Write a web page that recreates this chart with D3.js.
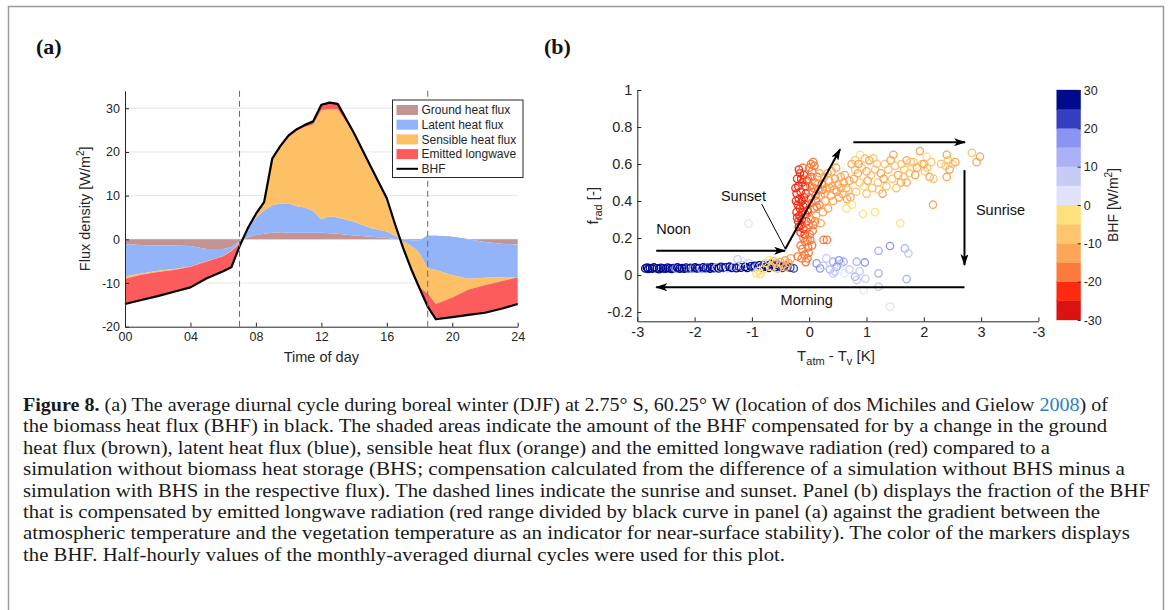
<!DOCTYPE html>
<html>
<head>
<meta charset="utf-8">
<script src="https://cdn.jsdelivr.net/npm/d3@7"></script>
<style>
  body { margin: 0; background: #fff; }
  svg text { font-family: "Liberation Sans", Arial, sans-serif; }
</style>
</head>
<body>
<svg id="fig" width="1171" height="610"></svg>
<script>
// ---- panel (a): diurnal cycle, compensation of the BHF (W/m2) ----
const hours    = [0, 1, 2, 3, 4, 5, 6, 6.5, 7, 7.5, 8, 8.5, 9, 9.5, 10, 10.5, 11, 11.5, 12, 12.5, 13, 14, 15, 16, 16.5, 17, 17.5, 18, 18.5, 19, 20, 21, 22, 23, 24];
const ground   = [-1.1, -1.3, -1.4, -1.4, -1.5, -2.2, -2.2, -1.8, -0.3, 0.5, 1.0, 1.3, 1.5, 1.6, 1.5, 1.5, 1.5, 1.5, 1.5, 1.4, 1.3, 0.9, 0.6, 0.3, 0.1, 0.0, -0.2, -0.2, 0.8, 0.8, 0.6, 0.0, -0.6, -1.0, -1.2];
const latent   = [-7.4, -6.5, -5.8, -5.4, -4.7, -2.8, -1.6, -0.8, -0.5, 1.8, 4.0, 5.3, 6.3, 6.6, 6.7, 6.1, 5.8, 5.0, 3.1, 3.9, 3.7, 3.1, 2.0, 1.5, 0.7, -0.5, -1.3, -3.0, -7.4, -7.8, -8.8, -9.0, -8.2, -7.7, -7.4];
const sensible = [-0.5, -0.3, -0.3, -0.2, -0.1, -0.1, -0.1, -0.1, -0.2, 0.1, 0.6, 1.7, 10.2, 12.8, 15.1, 17.2, 18.4, 19.8, 25.0, 24.5, 24.8, 20.2, 14.2, 7.5, 2.7, -1.5, -5.4, -7.8, -5.8, -7.8, -5.1, -2.5, -1.7, -0.9, -0.1];
const longwave = [-5.8, -5.8, -5.5, -5.0, -4.7, -3.8, -3.4, -3.7, -0.6, 0.1, 0.2, 0.2, 0.5, 0.4, 0.5, 0.4, 0.5, 0.7, 1.2, 1.5, 1.2, 0.1, 0.0, 0.1, 0.0, 0.0, 0.0, -0.2, -3.0, -3.5, -4.5, -5.8, -6.3, -6.3, -6.1];
const bhf      = [-14.8, -13.9, -13.0, -12.0, -11.0, -8.9, -7.3, -6.4, -1.6, 2.5, 5.8, 8.5, 18.5, 21.4, 23.8, 25.2, 26.2, 27.0, 30.8, 31.3, 31.0, 24.3, 16.8, 9.4, 3.5, -2.0, -6.9, -11.2, -15.4, -18.3, -17.8, -17.3, -16.8, -15.9, -14.8];
const sunTimes = [7.0, 18.5];
const fluxKeys   = ['ground', 'latent', 'sensible', 'longwave'];
const fluxNames  = ['Ground heat flux', 'Latent heat flux', 'Sensible heat flux', 'Emitted longwave'];
const fluxColors = ['#c49494', '#93b4f9', '#fdc064', '#fc5c5c'];
const hourTicks  = [0, 4, 8, 12, 16, 20, 24];
const fluxTicks  = [-20, -10, 0, 10, 20, 30];

// ---- panel (b): f_rad against Tatm - Tv, coloured by BHF  [dT, frad, BHF] ----
const noonPts = [
  [-2.86,0.036,28],[-2.83,0.040,27],[-2.81,0.033,29],[-2.78,0.038,28],[-2.74,0.035,27],[-2.71,0.041,26],
  [-2.66,0.036,28],[-2.62,0.032,29],[-2.59,0.039,27],[-2.55,0.036,26],[-2.51,0.034,28],[-2.47,0.040,27],
  [-2.44,0.036,29],[-2.40,0.033,26],[-2.37,0.038,28],[-2.33,0.036,17],[-2.30,0.041,27],[-2.26,0.035,28],
  [-2.22,0.038,26],[-2.18,0.034,29],[-2.15,0.040,27],[-2.11,0.036,22],[-2.07,0.039,28],[-2.03,0.034,16],
  [-1.99,0.041,27],[-1.96,0.036,26],[-1.92,0.038,28],[-1.88,0.033,11],[-1.85,0.042,27],[-1.81,0.037,29],
  [-1.77,0.040,22],[-1.73,0.035,26],[-1.70,0.043,28],[-1.66,0.037,27],[-1.62,0.041,12],[-1.58,0.036,28],
  [-1.54,0.044,26],[-1.50,0.038,23],[-1.46,0.042,27],[-1.42,0.036,8],[-1.39,0.045,28],[-1.35,0.039,26],
  [-1.31,0.043,14],[-1.27,0.037,27],[-1.25,0.085,7],[-1.23,0.046,22],[-1.19,0.040,28],[-1.18,0.075,4],
  [-1.16,0.052,9],[-1.12,0.044,26],[-1.08,0.038,27],[-1.05,0.063,6],[-1.02,0.047,28],[-0.98,0.041,22],
  [-0.95,0.050,26],[-0.91,0.044,12],[-0.87,0.052,27],[-0.83,0.040,28],[-0.79,0.055,21],[-0.75,0.046,26],
  [-0.71,0.038,27],[-0.67,0.060,28],[-0.63,0.050,23],[-0.59,0.043,26],[-0.55,0.055,21],[-0.51,0.046,27],
  [-0.47,0.038,22],[-0.43,0.052,26],[-0.38,0.044,21],[-0.33,0.040,22],[-0.27,0.036,20]
];
const dawnPts = [
  [-0.92,0.010,-2],[-0.88,0.022,-3],[-0.85,0.005,-1],[-0.80,0.030,-4],[-0.75,0.065,-3],[-0.70,0.080,-2],
  [-0.66,0.045,-6],[-0.62,0.075,-8],[-0.58,0.062,-12],[-0.55,0.035,-7],[-0.50,0.070,-13],[-0.46,0.055,-9],
  [-0.42,0.080,-14],[-0.40,0.045,-11],[-0.36,0.065,-12],[-0.32,0.090,-15]
];
const sunsetPts = [
  [-0.21,0.52,-22],[-0.19,0.48,-23],[-0.22,0.44,-22],[-0.18,0.41,-24],[-0.20,0.38,-22],[-0.16,0.36,-23],
  [-0.22,0.34,-21],[-0.17,0.32,-24],[-0.13,0.30,-22],[-0.19,0.29,-23],[-0.14,0.27,-21],[-0.10,0.25,-22],
  [-0.15,0.45,-24],[-0.12,0.50,-22],[-0.09,0.54,-21],[-0.13,0.40,-23],[-0.10,0.37,-22],[-0.07,0.33,-21],
  [-0.06,0.44,-22],[-0.16,0.55,-21],[-0.11,0.58,-20],[-0.05,0.29,-22],[-0.08,0.22,-21],[-0.03,0.19,-20],
  [-0.24,0.47,-22],[-0.23,0.40,-23],[-0.21,0.31,-22],[-0.18,0.26,-21],[-0.15,0.23,-22],[-0.12,0.34,-24],
  [-0.09,0.42,-23],[-0.07,0.48,-22],[-0.04,0.51,-21],[-0.14,0.52,-23],[-0.18,0.57,-21],[-0.06,0.38,-22],
  [-0.03,0.35,-21],[-0.01,0.27,-20],
  [0.03,0.60,-18],[0.07,0.61,-17],[0.09,0.59,-16],[0.05,0.56,-18],[-0.02,0.52,-17],[0.02,0.48,-18],
  [0.06,0.45,-17],[0.10,0.50,-16],[0.14,0.53,-17],[0.00,0.42,-18],[0.04,0.39,-17],[0.08,0.36,-16],
  [0.12,0.40,-17],[0.16,0.46,-16],[-0.02,0.34,-18],[0.03,0.30,-17],[0.07,0.27,-16],[-0.04,0.25,-18],
  [0.01,0.22,-17],[-0.07,0.18,-16],[-0.02,0.15,-17],[-0.12,0.14,-16],[-0.08,0.11,-17],[-0.15,0.16,-18],
  [-0.03,0.09,-16],[-0.20,0.10,-17],[0.25,0.19,-16],[0.31,0.19,-17],[0.20,0.43,-15],[0.22,0.49,-16],
  [0.26,0.53,-14],[0.18,0.38,-16],[-0.10,0.20,-18],[0.05,0.16,-16],
  [0.00,0.58,-17],[0.04,0.53,-16],[0.08,0.47,-17],[0.11,0.43,-16],[0.13,0.37,-17],[0.10,0.29,-16],
  [0.06,0.24,-17],[-0.01,0.12,-16],[-0.06,0.07,-17],[-0.13,0.09,-16],[0.02,0.19,-18],[0.15,0.49,-15],
  [0.18,0.55,-14],[0.23,0.46,-16],
  [0.30,0.47,-12],[0.35,0.51,-13],[0.40,0.48,-12],[0.45,0.52,-11],[0.38,0.43,-12],[0.50,0.49,-13],
  [0.55,0.53,-12],[0.60,0.50,-11],[0.48,0.45,-12],[0.28,0.40,-13],[0.33,0.36,-12],[0.42,0.40,-11],
  [0.58,0.44,-12],[0.65,0.47,-11],[0.70,0.51,-12],[0.24,0.34,-13],[0.12,0.32,-12],[0.20,0.28,-13],
  [0.27,0.44,-12],[0.32,0.55,-13],[0.36,0.47,-12],[0.44,0.46,-12],[0.52,0.42,-11],[0.56,0.47,-12],
  [0.62,0.54,-13],[0.66,0.41,-12],[0.39,0.56,-12],[0.47,0.58,-13]
];
const nightPts = [
  [0.74,0.60,-12],[0.80,0.57,-8],[0.89,0.65,-3],[0.97,0.63,-7],[1.05,0.62,-12],[1.12,0.63,-8],
  [0.85,0.55,-11],[0.92,0.58,-7],[1.00,0.56,-12],[1.08,0.54,-8],[1.15,0.57,-7],[0.78,0.52,-12],
  [0.88,0.50,-7],[0.95,0.48,-3],[1.02,0.51,-12],[1.10,0.47,-8],[1.20,0.50,-7],[1.25,0.55,-12],
  [1.32,0.60,-8],[1.38,0.57,-7],[1.42,0.62,-12],[1.47,0.65,-13],[1.50,0.59,-8],[1.55,0.54,-12],
  [1.61,0.60,-7],[1.66,0.57,-8],[1.70,0.62,-12],[1.75,0.55,-8],[1.80,0.58,-3],[1.82,0.61,-7],
  [1.88,0.58,-12],[1.93,0.67,-14],[1.97,0.60,-8],[2.02,0.56,-7],[2.06,0.58,-8],[2.10,0.53,-12],
  [2.17,0.52,-8],[2.05,0.64,-3],[2.40,0.65,-12],[2.38,0.59,-8],[2.45,0.57,-12],[2.50,0.60,-8],
  [2.40,0.53,-12],[2.84,0.66,-7],[2.98,0.64,-12],[2.92,0.61,-13],[1.28,0.44,-12],[1.35,0.48,-7],
  [1.45,0.52,-8],[1.60,0.50,-12],[0.68,0.46,-8],[0.72,0.42,-12],[0.75,0.38,-3],[0.65,0.36,-3],
  [0.94,0.33,-4],[1.15,0.34,-3],[2.16,0.38,-12],[1.59,0.28,-4],[1.00,0.44,-7],[0.82,0.45,-8],
  [1.70,0.50,-12],[0.80,0.62,-8],[0.86,0.60,-12],[1.18,0.60,-8],[1.22,0.46,-8],[1.30,0.52,-12],
  [1.52,0.47,-7],[1.65,0.53,-8],[1.77,0.61,-8],[1.85,0.54,-12],[2.00,0.60,-12],[2.13,0.61,-8],
  [2.30,0.60,-7],[2.42,0.62,-8],[2.55,0.61,-12]
];
const morningPts = [
  [0.13,0.063,16],[0.19,0.036,17],[0.30,0.090,8],[0.42,0.072,13],[0.48,0.045,16],[0.55,0.060,6],
  [0.60,0.072,12],[0.36,0.030,11],[0.52,0.080,18],[0.45,0.020,9],[0.83,0.072,12],[0.97,0.068,17],
  [0.80,-0.009,13],[0.83,-0.027,9],[0.95,-0.081,4],[1.21,0.131,14],[1.41,0.157,16],[1.67,0.144,12],
  [1.73,0.117,9],[1.21,0.009,12],[1.21,-0.063,7],[1.70,-0.022,13],[1.41,-0.171,3],[-1.06,0.279,4],
  [0.42,0.009,5],[0.70,0.030,8],[0.25,0.050,7],[0.88,0.020,5],[0.62,0.010,4],[0.98,-0.020,6]
];
const dTTicks   = [-3, -2, -1, 0, 1, 2, 3, 4];
const fradTicks = [-0.2, 0, 0.2, 0.4, 0.6, 0.8, 1];
const cbTicks   = [-30, -20, -10, 0, 10, 20, 30];
const cbLevels  = [-30, -25, -20, -15, -10, -5, 0, 5, 10, 15, 20, 25];
const cbColors  = ['#d91212', '#fb2a10', '#fb7b3c', '#fca657', '#fdc66e', '#fde27c',
                   '#e1e3fa', '#c6cbf8', '#aab1f6', '#8b94f2', '#3440c0', '#000a8c'];

// arrows and notes of panel (b), in data units
const arrows = [
  [[-2.67, 0.131], [-0.42, 0.131]],
  [[-0.42, 0.139], [0.54, 0.68]],
  [[0.77, 0.718], [2.72, 0.718]],
  [[2.71, 0.567], [2.71, 0.054]],
  [[2.71, -0.066], [-2.67, -0.066]]
];
const notes = [
  { text: 'Noon',    x: -2.67, y: 0.222 },
  { text: 'Sunset',  x: -1.54, y: 0.400 },
  { text: 'Sunrise', x: 2.91,  y: 0.324 },
  { text: 'Morning', x: -0.50, y: -0.162 }
];
const sunsetLeader = [[-0.83, 0.384], [-0.42, 0.144]];

const captionLines = [
  'the biomass heat flux (BHF) in black. The shaded areas indicate the amount of the BHF compensated for by a change in the ground',
  'heat flux (brown), latent heat flux (blue), sensible heat flux (orange) and the emitted longwave radiation (red) compared to a',
  'simulation without biomass heat storage (BHS; compensation calculated from the difference of a simulation without BHS minus a',
  'simulation with BHS in the respective flux). The dashed lines indicate the sunrise and sunset. Panel (b) displays the fraction of the BHF',
  'that is compensated by emitted longwave radiation (red range divided by black curve in panel (a) against the gradient between the',
  'atmospheric temperature and the vegetation temperature as an indicator for near-surface stability). The color of the markers displays',
  'the BHF. Half-hourly values of the monthly-averaged diurnal cycles were used for this plot.'
];
const captionEnds = [1108, 1107, 1050, 1125, 1150, 1100, 1130, 785];

const INK = '#262626';
const svg = d3.select('#fig');

function styleAxis(g, fs) {
  g.attr('font-family', '"Liberation Sans", Arial, sans-serif').attr('font-size', fs);
  g.selectAll('path').attr('stroke', INK).attr('stroke-width', 1);
  g.selectAll('line').attr('stroke', INK);
  g.selectAll('text').attr('fill', INK);
}

// frame
svg.append('rect').attr('x', 8.5).attr('y', 6.5).attr('width', 1155).attr('height', 700)
  .attr('fill', 'none').attr('stroke', '#9a9a9a').attr('stroke-width', 1.5);

svg.selectAll('text.plabel').data(['(a)', '(b)']).join('text')
  .attr('class', 'plabel')
  .attr('x', (d, i) => i ? 544 : 36).attr('y', 54)
  .style('font-family', '"Liberation Serif", "Times New Roman", serif')
  .attr('font-size', 22).attr('font-weight', 'bold').attr('fill', '#111').text(d => d);

// ================= panel (a) =================
const xA = d3.scaleLinear().domain([0, 24]).range([125, 517.7]);
const yA = d3.scaleLinear().domain([-20, 34]).range([326.7, 90.8]);
const gA = svg.append('g');

gA.append('g').selectAll('line').data(fluxTicks.slice(1)).join('line')
  .attr('x1', xA(0)).attr('x2', xA(24))
  .attr('y1', d => yA(d)).attr('y2', d => yA(d))
  .attr('stroke', '#e6e6e6').attr('stroke-width', 1);

const rows = hours.map((h, i) => ({ h, ground: ground[i], latent: latent[i], sensible: sensible[i], longwave: longwave[i] }));
const stacked = d3.stack().keys(fluxKeys)(rows);   // cumulative, like matlab area()
const areaA = d3.area().x(d => xA(d.data.h)).y0(d => yA(d[0])).y1(d => yA(d[1]));
gA.append('g').selectAll('path').data(stacked).join('path')
  .attr('d', areaA).attr('fill', (d, i) => fluxColors[i]);

gA.append('path').datum(hours)
  .attr('d', d3.line().x(d => xA(d)).y((d, i) => yA(bhf[i])))
  .attr('fill', 'none').attr('stroke', '#000').attr('stroke-width', 2.2)
  .attr('stroke-linejoin', 'round');

gA.append('g').selectAll('line').data(sunTimes).join('line')
  .attr('x1', d => xA(d)).attr('x2', d => xA(d))
  .attr('y1', yA(34)).attr('y2', yA(-20))
  .attr('stroke', '#6a6a6a').attr('stroke-width', 1).attr('stroke-dasharray', '6,4');

const axAy = gA.append('g').attr('transform', `translate(${xA(0)},0)`)
  .call(d3.axisLeft(yA).tickValues(fluxTicks).tickSizeInner(-4).tickSizeOuter(0).tickPadding(5).tickFormat(d => String(d)));
styleAxis(axAy, 12.5);
const axAx = gA.append('g').attr('transform', `translate(0,${yA(-20)})`)
  .call(d3.axisBottom(xA).tickValues(hourTicks).tickSizeInner(-4).tickSizeOuter(0).tickPadding(5).tickFormat(d3.format('02d')));
styleAxis(axAx, 12.5);

gA.append('text').attr('x', (xA(0) + xA(24)) / 2).attr('y', 362)
  .attr('text-anchor', 'middle').attr('font-size', 14.5).attr('fill', INK).text('Time of day');
const ylA = gA.append('text').attr('transform', `translate(90,${(yA(34) + yA(-20)) / 2}) rotate(-90)`)
  .attr('text-anchor', 'middle').attr('font-size', 14.5).attr('fill', INK);
ylA.append('tspan').text('Flux density [W/m');
ylA.append('tspan').attr('font-size', 10).attr('dy', -6).text('2');
ylA.append('tspan').attr('dy', 6).text(']');

// legend
const leg = gA.append('g').attr('transform', 'translate(392.5,100)');
leg.append('rect').attr('width', 130.5).attr('height', 77.5)
  .attr('fill', '#fff').attr('stroke', INK).attr('stroke-width', 1);
const legItems = fluxNames.concat(['BHF']);
const li = leg.selectAll('g').data(legItems).join('g')
  .attr('transform', (d, i) => `translate(0,${10 + i * 14.7})`);
li.filter((d, i) => i < 4).append('rect')
  .attr('x', 4).attr('y', -5).attr('width', 21.5).attr('height', 10)
  .attr('fill', (d, i) => fluxColors[i]);
li.filter((d, i) => i === 4).append('line')
  .attr('x1', 4).attr('x2', 25.5).attr('stroke', '#000').attr('stroke-width', 2);
li.append('text').attr('x', 29).attr('y', 4.3).attr('font-size', 12).attr('fill', INK).text(d => d);

// ================= panel (b) =================
const xB = d3.scaleLinear().domain([-3, 4]).range([637.3, 1038.4]);
const yB = d3.scaleLinear().domain([-0.25, 1]).range([321.3, 90]);
const bhfColor = d3.scaleThreshold().domain(cbLevels.slice(1)).range(cbColors);
const gB = svg.append('g');

const allPts = noonPts.concat(dawnPts, morningPts, sunsetPts, nightPts);
gB.append('g').selectAll('circle').data(allPts).join('circle')
  .attr('cx', d => xB(d[0])).attr('cy', d => yB(d[1])).attr('r', 3.7)
  .attr('fill', 'none').attr('stroke', d => bhfColor(d[2])).attr('stroke-width', 1.3);

const defs = svg.append('defs');
defs.append('marker').attr('id', 'ah').attr('viewBox', '0 0 12 8')
  .attr('refX', 11).attr('refY', 4).attr('markerWidth', 12).attr('markerHeight', 8)
  .attr('markerUnits', 'userSpaceOnUse').attr('orient', 'auto')
  .append('path').attr('d', 'M0,0 L12,4 L0,8 L3,4 Z').attr('fill', '#000');

gB.append('g').selectAll('line').data(arrows).join('line')
  .attr('x1', d => xB(d[0][0])).attr('y1', d => yB(d[0][1]))
  .attr('x2', d => xB(d[1][0])).attr('y2', d => yB(d[1][1]))
  .attr('stroke', '#000').attr('stroke-width', 2).attr('marker-end', 'url(#ah)');
gB.append('line')
  .attr('x1', xB(sunsetLeader[0][0])).attr('y1', yB(sunsetLeader[0][1]))
  .attr('x2', xB(sunsetLeader[1][0])).attr('y2', yB(sunsetLeader[1][1]))
  .attr('stroke', '#000').attr('stroke-width', 1);
gB.append('g').selectAll('text').data(notes).join('text')
  .attr('x', d => xB(d.x)).attr('y', d => yB(d.y))
  .attr('font-size', 14.5).attr('fill', '#111').text(d => d.text);

const axBy = gB.append('g').attr('transform', `translate(${xB(-3)},0)`)
  .call(d3.axisLeft(yB).tickValues(fradTicks).tickSizeInner(-4).tickSizeOuter(0).tickPadding(5).tickFormat(d => String(d)));
styleAxis(axBy, 14.5);
const axBx = gB.append('g').attr('transform', `translate(0,${yB(-0.25)})`)
  .call(d3.axisBottom(xB).tickValues(dTTicks).tickSizeInner(-4).tickSizeOuter(0).tickPadding(5)
    .tickFormat(d => d === 4 ? '-3' : String(d)));
styleAxis(axBx, 14.5);

const xlB = gB.append('text').attr('x', 836).attr('y', 361)
  .attr('text-anchor', 'middle').attr('font-size', 15).attr('fill', INK);
xlB.append('tspan').text('T');
xlB.append('tspan').attr('font-size', 11).attr('dy', 4).text('atm');
xlB.append('tspan').attr('dy', -4).text(' - T');
xlB.append('tspan').attr('font-size', 11).attr('dy', 4).text('v');
xlB.append('tspan').attr('dy', -4).text(' [K]');
const ylB = gB.append('text').attr('transform', `translate(598,${(yB(1) + yB(-0.25)) / 2}) rotate(-90)`)
  .attr('text-anchor', 'middle').attr('font-size', 15).attr('fill', INK);
ylB.append('tspan').text('f');
ylB.append('tspan').attr('font-size', 11).attr('dy', 4).text('rad');
ylB.append('tspan').attr('dy', -4).text(' [-]');

// colorbar
const cbY = d3.scaleLinear().domain([-30, 30]).range([320, 90]);
const gC = svg.append('g');
gC.selectAll('rect').data(cbLevels).join('rect')
  .attr('x', 1056.7).attr('width', 24)
  .attr('y', d => cbY(d + 5)).attr('height', d => cbY(d) - cbY(d + 5))
  .attr('fill', (d, i) => cbColors[i]).attr('stroke', (d, i) => cbColors[i]).attr('stroke-width', 0.3);
const axC = gC.append('g').attr('transform', 'translate(1080.7,0)')
  .call(d3.axisRight(cbY).tickValues(cbTicks).tickSizeInner(-3).tickSizeOuter(0).tickPadding(3).tickFormat(d => String(d)));
styleAxis(axC, 12.5);
axC.select('path').remove();
const ylC = gC.append('text').attr('transform', 'translate(1118,205) rotate(-90)')
  .attr('text-anchor', 'middle').attr('font-size', 14).attr('fill', INK);
ylC.append('tspan').text('BHF [W/m');
ylC.append('tspan').attr('font-size', 10).attr('dy', -6).text('2');
ylC.append('tspan').attr('dy', 6).text(']');

// ================= caption =================
const capX = 23, capY0 = 411, capDY = 21.4;
const capFont = '"Liberation Serif", "Times New Roman", serif';
const first = svg.append('text').attr('x', capX).attr('y', capY0)
  .style('font-family', capFont).attr('font-size', 19.5).attr('fill', '#1a1a1a')
  .attr('textLength', captionEnds[0] - capX).attr('lengthAdjust', 'spacingAndGlyphs');
first.append('tspan').attr('font-weight', 'bold').text('Figure 8.');
first.append('tspan').text(' (a) The average diurnal cycle during boreal winter (DJF) at 2.75\u00b0 S, 60.25\u00b0 W (location of dos Michiles and Gielow ');
first.append('tspan').attr('fill', '#2a7fc0').text('2008');
first.append('tspan').text(') of');
svg.append('g').selectAll('text').data(captionLines).join('text')
  .attr('x', capX).attr('y', (d, i) => capY0 + (i + 1) * capDY)
  .style('font-family', capFont).attr('font-size', 19.5).attr('fill', '#1a1a1a')
  .attr('textLength', (d, i) => captionEnds[i + 1] - capX).attr('lengthAdjust', 'spacingAndGlyphs')
  .text(d => d);
</script>
</body>
</html>
